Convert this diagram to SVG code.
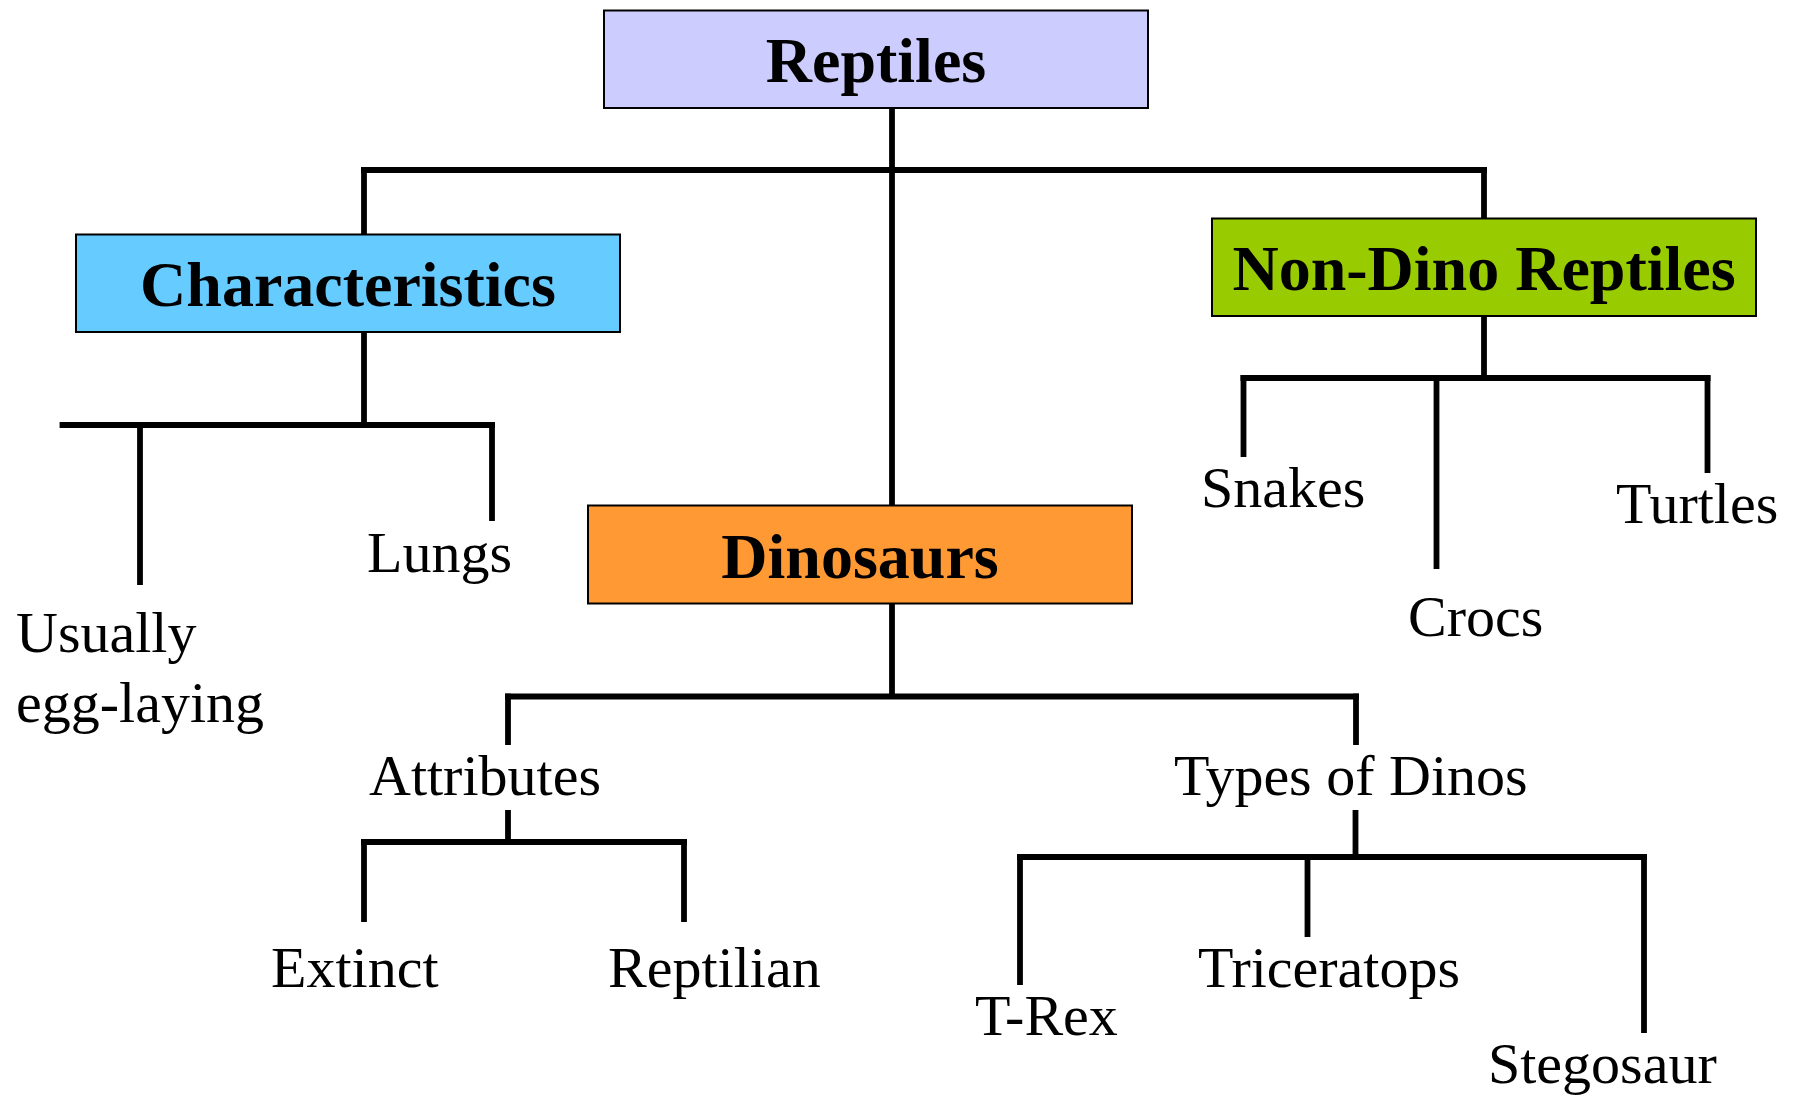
<svg xmlns="http://www.w3.org/2000/svg" width="1796" height="1095" viewBox="0 0 1796 1095">
<style>
.box{stroke:#000;stroke-width:2}
.hd{font-family:"Liberation Serif","Times New Roman",serif;font-weight:bold;font-size:64px;text-anchor:middle;fill:#000}
.lb{font-family:"Liberation Serif","Times New Roman",serif;font-size:58px;fill:#000}
.c{stroke:#000;stroke-width:5.8;fill:none;stroke-linecap:butt}
</style>
<rect width="1796" height="1095" fill="#fff"/>
<g id="connectors">
<path class="c" d="M892 108 V505"/>
<path class="c" d="M361 170 H1487"/>
<path class="c" d="M364 167 V235"/>
<path class="c" d="M1484 167 V218"/>
<path class="c" d="M364 332 V425"/>
<path class="c" d="M59.6 425 H495"/>
<path class="c" d="M140 425 V585"/>
<path class="c" d="M492 422 V521"/>
<path class="c" d="M892 604 V697"/>
<path class="c" d="M505 696.5 H1359"/>
<path class="c" d="M508 693.6 V745"/>
<path class="c" d="M1356 693.6 V745"/>
<path class="c" d="M508 810 V842"/>
<path class="c" d="M361 842 H687"/>
<path class="c" d="M364 839 V922"/>
<path class="c" d="M684 839 V922"/>
<path class="c" d="M1355.5 810 V857"/>
<path class="c" d="M1017 857 H1647"/>
<path class="c" d="M1020 854 V985"/>
<path class="c" d="M1307.5 854 V937"/>
<path class="c" d="M1644 854 V1033"/>
<path class="c" d="M1484 316 V378"/>
<path class="c" d="M1240.5 378 H1710.5"/>
<path class="c" d="M1243.5 375 V457"/>
<path class="c" d="M1436.5 375 V569"/>
<path class="c" d="M1707.5 375 V473"/>
</g>
<g id="reptiles">
<rect class="box" x="604" y="10.5" width="544" height="97.5" fill="#CCCCFF"/>
<text class="hd" x="876" y="82">Reptiles</text>
</g>
<g id="characteristics">
<rect class="box" x="76" y="234.5" width="544" height="97.5" fill="#66CCFF"/>
<text class="hd" x="348" y="306">Characteristics</text>
</g>
<g id="non-dino">
<rect class="box" x="1212" y="218.5" width="544" height="97.5" fill="#99CC00"/>
<text class="hd" x="1484" y="289.5">Non-Dino Reptiles</text>
</g>
<g id="dinosaurs">
<rect class="box" x="588" y="505.5" width="544" height="98" fill="#FF9933"/>
<text class="hd" x="860" y="577.5">Dinosaurs</text>
</g>
<g id="usually"><text class="lb" x="16" y="652">Usually</text><text class="lb" x="16" y="722">egg-laying</text></g>
<g id="lungs"><text class="lb" x="367" y="572">Lungs</text></g>
<g id="snakes"><text class="lb" x="1201" y="507">Snakes</text></g>
<g id="crocs"><text class="lb" x="1408" y="636">Crocs</text></g>
<g id="turtles"><text class="lb" x="1616" y="523">Turtles</text></g>
<g id="attributes"><text class="lb" x="369" y="795">Attributes</text></g>
<g id="types"><text class="lb" x="1174" y="795">Types of Dinos</text></g>
<g id="extinct"><text class="lb" x="271" y="987">Extinct</text></g>
<g id="reptilian"><text class="lb" x="608" y="987">Reptilian</text></g>
<g id="trex"><text class="lb" x="975" y="1035">T-Rex</text></g>
<g id="triceratops"><text class="lb" x="1198" y="987">Triceratops</text></g>
<g id="stegosaur"><text class="lb" x="1488" y="1083">Stegosaur</text></g>
</svg>
